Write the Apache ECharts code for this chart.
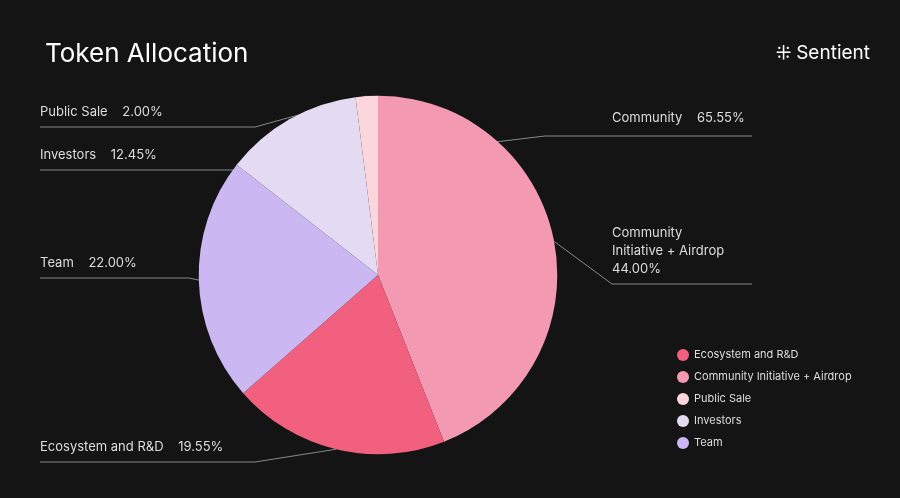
<!DOCTYPE html>
<html><head><meta charset="utf-8">
<script src="https://cdn.jsdelivr.net/npm/echarts@6/dist/echarts.min.js"></script>
<style>html,body{margin:0;background:#141414}#c{width:900px;height:498px}</style>
</head><body><div id="c"></div>
<script>
const categories = ["Community Initiative + Airdrop","Ecosystem and R&D","Team","Investors","Public Sale"];
const values = [44.00,19.55,22.00,12.45,2.00];
const labelNames = ["Community\nInitiative + Airdrop","Ecosystem and R&D","Team","Investors","Public Sale"];
const legendOrder = ["Ecosystem and R&D","Community Initiative + Airdrop","Public Sale","Investors","Team"];
const colors = ["#f39ab2","#f2607f","#cbb8f2","#e4daf2","#fbd6dc"];
const labelY = [224,438,254,146,103];
const chart = echarts.init(document.getElementById('c'));
chart.setOption({
  backgroundColor:'#141414',
  title:{text:'Token Allocation',left:40,top:36,textStyle:{color:'#fff',fontSize:26,fontWeight:'normal',fontFamily:'Inter'}},
  graphic:[
    {type:'text',right:30,top:44,style:{text:'⁜ Sentient',fill:'#fff',fontSize:19,fontFamily:'Inter'}},
    {type:'text',left:612,top:112,style:{text:'Community    65.55%',fill:'#ddd',fontSize:13,fontFamily:'Inter'}},
    {type:'line',shape:{x1:495,y1:142,x2:545,y2:136},style:{stroke:'#888',lineWidth:1}},
    {type:'line',shape:{x1:545,y1:136,x2:752,y2:136},style:{stroke:'#888',lineWidth:1}}
  ],
  legend:{orient:'vertical',left:672,top:344,itemGap:10,icon:'circle',itemWidth:12,itemHeight:12,
    data:legendOrder,textStyle:{color:'#ddd',fontSize:11,fontFamily:'Inter'}},
  series:[{
    type:'pie',center:[378,275],radius:['0%','72%'],startAngle:90,
    itemStyle:{borderColor:'#141414',borderWidth:0},
    data:categories.map((c,i)=>({name:c,value:values[i],itemStyle:{color:colors[i]},
      label:{formatter:labelNames[i]+(i===0?'\n':'    ')+values[i].toFixed(2)+'%'}})),
    label:{color:'#ddd',fontSize:13,fontFamily:'Inter',lineHeight:18,alignTo:'edge',edgeDistance:40},
    labelLine:{lineStyle:{color:'#888'},length:10,length2:0},
    labelLayout:function(p){
      const isLeft=p.labelRect.x<450;
      const y=labelY[p.dataIndex];
      const h=p.labelRect.height;
      const x=isLeft?40:612;
      const w=isLeft?215:140;
      const ly=y+h+6;
      const pts=p.labelLinePoints;
      if(pts){pts[1][1]=ly;pts[1][0]=isLeft?Math.min(pts[1][0],x+w):Math.max(pts[1][0],x);pts[2]=[isLeft?x:x+w,ly];}
      return {x:x,y:y,align:'left',verticalAlign:'top',labelLinePoints:pts};
    }
  }]
});
</script></body></html>
